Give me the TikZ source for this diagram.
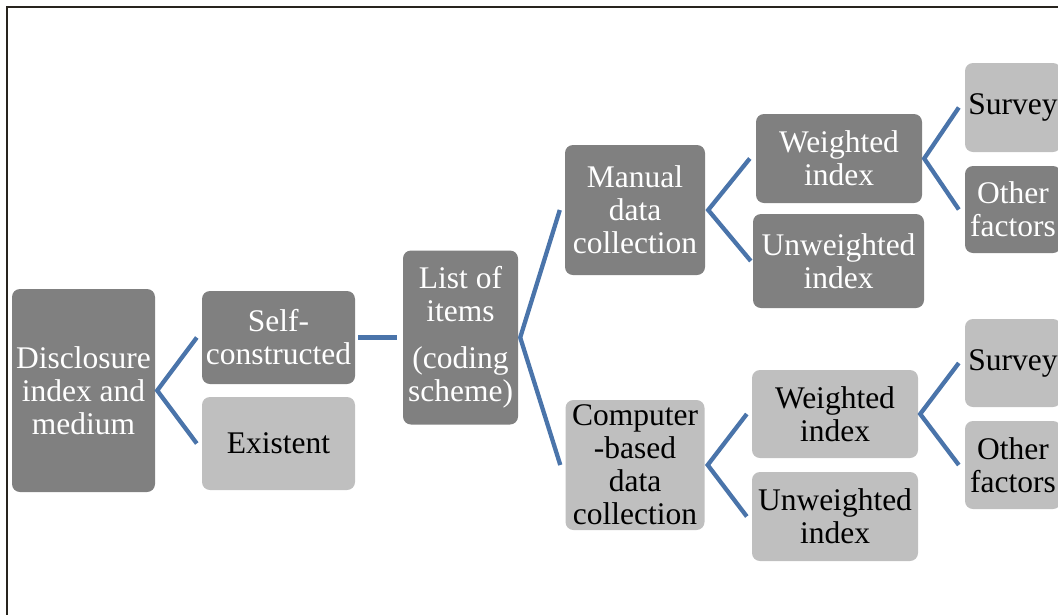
\documentclass[tikz,border=0pt]{standalone}
\usepackage{fontspec}
\setmainfont{Liberation Serif}
\usetikzlibrary{calc}
\definecolor{dkbox}{RGB}{128,128,128}
\definecolor{ltbox}{RGB}{191,191,191}
\definecolor{conn}{RGB}{74,116,170}
\definecolor{framec}{RGB}{40,36,30}
\begin{document}
\begin{tikzpicture}[x=1pt,y=-1pt,
  box/.style={rounded corners=8pt, inner sep=0pt, align=center, font=\fontsize{31.5}{33}\selectfont},
  dark/.style={box, fill=dkbox, text=white},
  light/.style={box, fill=ltbox, text=black},
  link/.style={draw=conn, line width=4.3pt}]
\useasboundingbox (0,0) rectangle (1058,614);
\clip (0,0) rectangle (1058,614);
\draw[draw=framec, line width=2pt] (7,616) -- (7,7) -- (1060,7);

\node[dark, minimum width=143pt, minimum height=203pt] (disc) at (83.5,390.5) {Disclosure\\index and\\medium};
\node[dark, minimum width=153pt, minimum height=93pt] (self) at (278.5,337.5) {Self-\\constructed};
\node[light, minimum width=153pt, minimum height=93pt] (exist) at (278.5,443.5) {Existent};
\node[dark, minimum width=115pt, minimum height=174pt] (list) at (460.5,337.5) {List of\\items\\[14pt](coding\\scheme)};
\node[dark, minimum width=140pt, minimum height=130pt] (manual) at (635,210) {Manual\\data\\collection};
\node[light, minimum width=139pt, minimum height=130pt] (comp) at (635,465) {Computer\\-based\\data\\collection};
\node[dark, minimum width=166pt, minimum height=89pt] (wone) at (839,158.5) {Weighted\\index};
\node[dark, minimum width=171pt, minimum height=94pt] (uone) at (838.5,261) {Unweighted\\index};
\node[light, minimum width=166pt, minimum height=88pt] (wtwo) at (835,414) {Weighted\\index};
\node[light, minimum width=166pt, minimum height=89pt] (utwo) at (835,516.5) {Unweighted\\index};
\node[light, minimum width=96pt, minimum height=89pt] (sone) at (1013,107.5) {Survey};
\node[dark, minimum width=96pt, minimum height=87pt] (oone) at (1013,209.5) {Other\\factors};
\node[light, minimum width=96pt, minimum height=88pt] (stwo) at (1013,363) {Survey};
\node[light, minimum width=96pt, minimum height=88pt] (otwo) at (1013,465) {Other\\factors};

\draw[link] ([xshift=-5pt]self.west) -- ([xshift=2pt]disc.east) -- ([xshift=-5pt]exist.west);
\draw[link] ([xshift=3pt]self.east) -- ([xshift=-6pt]list.west);
\draw[link] ([xshift=-5pt]manual.west) -- ([xshift=2pt]list.east) -- ([xshift=-5pt]comp.west);
\draw[link] ([xshift=-6pt]wone.west) -- ([xshift=3pt]manual.east) -- ([xshift=-2pt]uone.west);
\draw[link] ([xshift=-5pt]wtwo.west) -- ([xshift=3pt]comp.east) -- ([xshift=-5pt]utwo.west);
\draw[link] ([xshift=-6pt]sone.west) -- ([xshift=2pt]wone.east) -- ([xshift=-6pt]oone.west);
\draw[link] ([xshift=-6pt]stwo.west) -- ([xshift=2pt]wtwo.east) -- ([xshift=-6pt]otwo.west);
\end{tikzpicture}
\end{document}
